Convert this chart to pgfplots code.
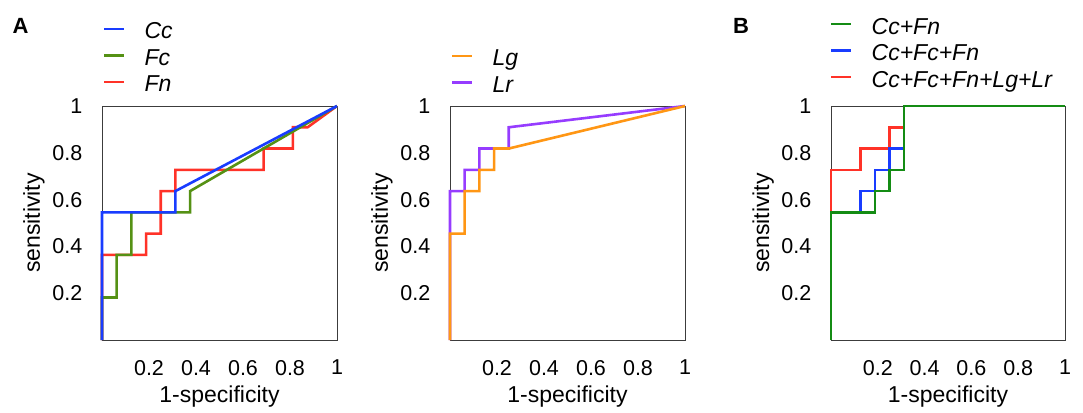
\documentclass[border=0pt]{standalone}
\usepackage{fontspec}
\setmainfont{Liberation Sans}
\usepackage{pgfplots}
\pgfplotsset{compat=1.18}

\definecolor{cblue}{RGB}{25,60,255}
\definecolor{fcgreen}{RGB}{85,145,20}
\definecolor{fnred}{RGB}{255,50,40}
\definecolor{lgorange}{RGB}{255,150,20}
\definecolor{lrpurple}{RGB}{150,60,255}
\definecolor{bgreen}{RGB}{20,140,20}
\definecolor{axisgray}{RGB}{60,60,60}

\pgfplotsset{
  rocaxis/.style={
    scale only axis, width=235pt, height=234pt,
    xmin=0, xmax=1, ymin=0, ymax=1,
    clip=false,
    xtick={0.2,0.4,0.6,0.8,1}, ytick={0.2,0.4,0.6,0.8,1},
    xticklabels={0.2,0.4,0.6,0.8,1}, yticklabels={0.2,0.4,0.6,0.8,1},
    major tick length=0pt,
    axis line style={draw=axisgray, line width=1pt},
    /pgf/number format/assume math mode=true,
    tick label style={font=\fontsize{21.5}{22}\selectfont},
    xticklabel style={anchor=north, inner sep=0pt, yshift=-20pt},
    yticklabel style={anchor=east, inner sep=0pt, xshift=-19.5pt},
    xlabel={1-specificity}, ylabel={sensitivity},
    every axis x label/.style={at={(axis description cs:0.5,-0.2436)}, anchor=center, font=\fontsize{23}{23}\selectfont},
    every axis y label/.style={at={(axis description cs:-0.29,0.5)}, anchor=center, rotate=90, font=\fontsize{23}{23}\selectfont},
    legend cell align=left,
    legend image code/.code={\draw[##1, line width=2.6pt] (0pt,10pt) -- (20pt,10pt);},
    legend style={draw=none, fill=none, inner sep=0pt, outer sep=0pt,
      row sep=4.5pt, column sep=19pt, anchor=north west,
      font=\itshape\fontsize{23}{23}\selectfont,
      nodes={inner sep=0pt, text height=17pt, text depth=5pt, anchor=base west}},
  },
  roc/.style={line width=2.6pt, forget plot},
}

\begin{document}
\begin{tikzpicture}
\path[use as bounding box] (0pt,0pt) rectangle (1083pt,-412pt);

\node[anchor=base west, font=\bfseries\fontsize{22}{22}\selectfont, inner sep=0pt] at (12.5pt,-33.5pt) {A};
\node[anchor=base west, font=\bfseries\fontsize{22}{22}\selectfont, inner sep=0pt] at (733pt,-33.5pt) {B};

% Panel A, left
\begin{axis}[rocaxis, at={(102pt,-340pt)}, anchor=south west,
  legend style={at={(axis description cs:0.004,1.359)}}]
\addlegendimage{cblue}\addlegendentry{Cc}
\addlegendimage{fcgreen}\addlegendentry{Fc}
\addlegendimage{fnred}\addlegendentry{Fn}
\addplot[roc, fnred] coordinates {(0,0)(0,0.3636)(0.1875,0.3636)(0.1875,0.4545)(0.25,0.4545)(0.25,0.6364)(0.3125,0.6364)(0.3125,0.7273)(0.6875,0.7273)(0.6875,0.8182)(0.8125,0.8182)(0.8125,0.9091)(0.875,0.9091)(1,1)};
\addplot[roc, fcgreen] coordinates {(0,0)(0,0.1818)(0.0625,0.1818)(0.0625,0.3636)(0.125,0.3636)(0.125,0.5455)(0.375,0.5455)(0.375,0.6364)(1,1)};
\addplot[roc, cblue] coordinates {(0,0)(0,0.5455)(0.3125,0.5455)(0.3125,0.6364)(1,1)};
\end{axis}

% Panel A, right
\begin{axis}[rocaxis, at={(450pt,-340pt)}, anchor=south west,
  legend style={at={(axis description cs:0.004,1.244)}}]
\addlegendimage{lgorange}\addlegendentry{Lg}
\addlegendimage{lrpurple}\addlegendentry{Lr}
\addplot[roc, lrpurple] coordinates {(0,0)(0,0.6364)(0.0625,0.6364)(0.0625,0.7273)(0.125,0.7273)(0.125,0.8182)(0.25,0.8182)(0.25,0.9091)(1,1)};
\addplot[roc, lgorange] coordinates {(0,0)(0,0.4545)(0.0625,0.4545)(0.0625,0.6364)(0.125,0.6364)(0.125,0.7273)(0.1875,0.7273)(0.1875,0.8182)(0.25,0.8182)(1,1)};
\end{axis}

% Panel B
\begin{axis}[rocaxis, width=234pt, at={(831pt,-340pt)}, anchor=south west,
  legend style={at={(axis description cs:-0.004,1.38)}}]
\addlegendimage{bgreen}\addlegendentry{Cc+Fn}
\addlegendimage{cblue}\addlegendentry{Cc+Fc+Fn}
\addlegendimage{fnred}\addlegendentry{Cc+Fc+Fn+Lg+Lr}
\addplot[roc, fnred] coordinates {(0,0)(0,0.7273)(0.125,0.7273)(0.125,0.8182)(0.25,0.8182)(0.25,0.9091)(0.3125,0.9091)(0.3125,1)(1,1)};
\addplot[roc, cblue] coordinates {(0,0)(0,0.5455)(0.125,0.5455)(0.125,0.6364)(0.1875,0.6364)(0.1875,0.7273)(0.25,0.7273)(0.25,0.8182)(0.3125,0.8182)(0.3125,1)(1,1)};
\addplot[roc, bgreen] coordinates {(0,0)(0,0.5455)(0.1875,0.5455)(0.1875,0.6364)(0.25,0.6364)(0.25,0.7273)(0.3125,0.7273)(0.3125,1)(1,1)};
\end{axis}
\end{tikzpicture}
\end{document}
